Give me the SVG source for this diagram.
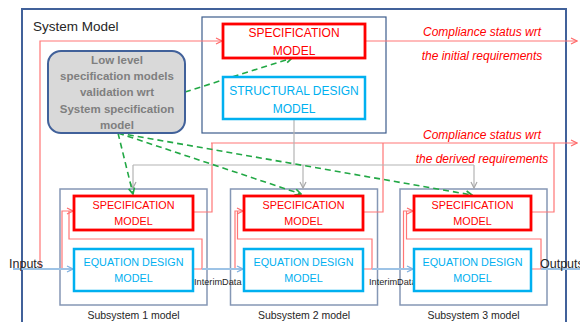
<svg xmlns="http://www.w3.org/2000/svg" width="580" height="322" viewBox="0 0 580 322">
  <style>
    .frame { fill: none; stroke: #41619a; stroke-width: 2; }
    .holder { fill: none; stroke: #3d5d8c; stroke-width: 1.2; }
    .sub { fill: none; stroke: #8597b5; stroke-width: 1.5; }
    .spec { fill: #ffffff; stroke: #ff0000; stroke-width: 2.8; }
    .design { fill: #ffffff; stroke: #00b0f0; stroke-width: 2.5; }
    .lowlevel { fill: #d9d9d9; stroke: #41619a; stroke-width: 2; }
    .t { font-family: "Liberation Sans", Arial, sans-serif; }
    .specTxt { fill: #ff0000; text-anchor: middle; }
    .designTxt { fill: #00b0f0; text-anchor: middle; }
    .lowTxt { fill: #7f7f7f; font-weight: bold; font-size: 11.5px; text-anchor: middle; }
    .note { fill: #ff0000; font-style: italic; font-size: 12px; text-anchor: middle; }
    .lbl { fill: #262626; }
    .red { fill: none; stroke: #ff7676; stroke-width: 1.2; }
    .gray { fill: none; stroke: #b4b4b4; stroke-width: 1.2; }
    .blue { fill: none; stroke: #9dc3e6; stroke-width: 2; }
    .green { fill: none; stroke: #22a845; stroke-width: 1.6; stroke-dasharray: 6 4; }
  </style>
  <defs>
    <marker id="arrRed" viewBox="0 0 8 8" refX="7" refY="4" markerWidth="8" markerHeight="8" markerUnits="userSpaceOnUse" orient="auto">
      <path d="M1,1 L7,4 L1,7" fill="none" stroke="#ff6b6b" stroke-width="1.2"/>
    </marker>
    <marker id="arrGray" viewBox="0 0 8 8" refX="7" refY="4" markerWidth="8" markerHeight="8" markerUnits="userSpaceOnUse" orient="auto">
      <path d="M1,1 L7,4 L1,7" fill="none" stroke="#a8a8a8" stroke-width="1.2"/>
    </marker>
    <marker id="arrBlue" viewBox="0 0 8 8" refX="7" refY="4" markerWidth="8" markerHeight="8" markerUnits="userSpaceOnUse" orient="auto">
      <path d="M1,1 L7,4 L1,7" fill="none" stroke="#7fb0e0" stroke-width="1.3"/>
    </marker>
    <marker id="arrGreen" viewBox="0 0 8 8" refX="7" refY="4" markerWidth="8" markerHeight="8" markerUnits="userSpaceOnUse" orient="auto">
      <path d="M1,1 L7,4 L1,7" fill="none" stroke="#22a845" stroke-width="1.6"/>
    </marker>
  </defs>

  <rect width="580" height="322" fill="#ffffff"/>

  <!-- outer system frame -->
  <g id="system-model">
    <rect class="frame" x="22" y="9" width="544" height="330"/>
    <text class="t lbl" x="33" y="31" font-size="13.5">System Model</text>
  </g>

  <!-- top-level container -->
  <g id="system-container">
    <rect class="holder" x="202" y="17" width="184" height="116"/>
  </g>

  <g id="subsystem-1-frame">
    <rect class="sub" x="60" y="189" width="147" height="116"/>
    <text class="t lbl" x="133.5" y="319" font-size="10.5" text-anchor="middle">Subsystem 1 model</text>
  </g>
  <g id="subsystem-2-frame">
    <rect class="sub" x="230.5" y="189" width="147" height="116"/>
    <text class="t lbl" x="304" y="319" font-size="10.5" text-anchor="middle">Subsystem 2 model</text>
  </g>
  <g id="subsystem-3-frame">
    <rect class="sub" x="400" y="189" width="147" height="116"/>
    <text class="t lbl" x="473.5" y="319" font-size="10.5" text-anchor="middle">Subsystem 3 model</text>
  </g>

  <!-- connectors -->
  <g id="connectors">
    <!-- inputs and top specification feed -->
    <path class="red" d="M13,269 H62 V211 H73" marker-end="url(#arrRed)"/>
    <path class="red" d="M40,269 V41 H222" marker-end="url(#arrRed)"/>
    <path class="blue" d="M13,269 H73" marker-end="url(#arrBlue)"/>

    <!-- compliance outputs -->
    <path class="red" d="M365,41 H577" marker-end="url(#arrRed)"/>
    <path class="red" d="M193,212 H212 V143"/>
    <path class="red" d="M363,212 H383 V143"/>
    <path class="red" d="M531,212 H554 V143"/>
    <path class="red" d="M211,143 H577" marker-end="url(#arrRed)"/>

    <!-- subsystem feedback loops -->
    <path class="red" d="M193,269 H202 V239 H69 V211"/>
    <path class="red" d="M363,269 H372 V239 H237.5 V211"/>
    <path class="red" d="M531,269 H541 V239 H406.5 V211"/>
    <path class="red" d="M235,269 V211 H243" marker-end="url(#arrRed)"/>
    <path class="red" d="M403.5,269 V211 H413" marker-end="url(#arrRed)"/>

    <!-- data flow -->
    <path class="blue" d="M202,269 H243" marker-end="url(#arrBlue)"/>
    <path class="blue" d="M372,269 H413" marker-end="url(#arrBlue)"/>
    <path class="blue" d="M541,269 H580"/>

    <!-- structural design distribution -->
    <path class="gray" d="M294,119 V165"/>
    <path class="gray" d="M133,165 H474"/>
    <path class="gray" d="M133,165 V188" marker-end="url(#arrGray)"/>
    <path class="gray" d="M303,165 V188" marker-end="url(#arrGray)"/>
    <path class="gray" d="M474,165 V188" marker-end="url(#arrGray)"/>

    <!-- validation links -->
    <path class="green" d="M185,92 L292,58" marker-end="url(#arrGreen)"/>
    <path class="green" d="M118,133 L133,194" marker-end="url(#arrGreen)"/>
    <path class="green" d="M118,133 L301,194" marker-end="url(#arrGreen)"/>
    <path class="green" d="M118,133 L472,195" marker-end="url(#arrGreen)"/>

    <!-- flow labels -->
    <text class="t lbl" x="9" y="268" font-size="12.5">Inputs</text>
    <text class="t lbl" x="540" y="268" font-size="12.5">Outputs</text>
    <text class="t lbl" x="194" y="285" font-size="9.2">InterimData</text>
    <text class="t lbl" x="369" y="285" font-size="9.2">InterimData</text>
    <text class="t note" x="482" y="36">Compliance status wrt</text>
    <text class="t note" x="482" y="60">the initial requirements</text>
    <text class="t note" x="482" y="139">Compliance status wrt</text>
    <text class="t note" x="482" y="163">the derived requirements</text>
  </g>

  <!-- validation node -->
  <g id="low-level-validation">
    <rect class="lowlevel" x="48" y="51" width="137" height="82" rx="13"/>
    <text class="t lowTxt" x="117" y="64">Low level</text>
    <text class="t lowTxt" x="117" y="80">specification models</text>
    <text class="t lowTxt" x="117" y="96">validation wrt</text>
    <text class="t lowTxt" x="117" y="113">System specification</text>
    <text class="t lowTxt" x="117" y="129">model</text>
  </g>

  <!-- system level models -->
  <g id="system-specification">
    <rect class="spec" x="223" y="24" width="142" height="34"/>
    <text class="t specTxt" x="294" y="36.5" font-size="12">SPECIFICATION</text>
    <text class="t specTxt" x="294" y="55" font-size="12">MODEL</text>
  </g>
  <g id="structural-design">
    <rect class="design" x="223" y="77" width="142" height="42"/>
    <text class="t designTxt" x="294" y="94.5" font-size="12">STRUCTURAL DESIGN</text>
    <text class="t designTxt" x="294" y="112.5" font-size="12">MODEL</text>
  </g>

  <!-- subsystem 1 -->
  <g id="sub1-specification">
    <rect class="spec" x="74" y="196" width="119" height="34"/>
    <text class="t specTxt" x="133.5" y="209" font-size="10.8">SPECIFICATION</text>
    <text class="t specTxt" x="133.5" y="225" font-size="10.8">MODEL</text>
  </g>
  <g id="sub1-equation">
    <rect class="design" x="74" y="249" width="119" height="42"/>
    <text class="t designTxt" x="133.5" y="266" font-size="10.8">EQUATION DESIGN</text>
    <text class="t designTxt" x="133.5" y="282" font-size="10.8">MODEL</text>
  </g>

  <!-- subsystem 2 -->
  <g id="sub2-specification">
    <rect class="spec" x="244" y="196" width="119" height="34"/>
    <text class="t specTxt" x="303.5" y="209" font-size="10.8">SPECIFICATION</text>
    <text class="t specTxt" x="303.5" y="225" font-size="10.8">MODEL</text>
  </g>
  <g id="sub2-equation">
    <rect class="design" x="244" y="249" width="119" height="42"/>
    <text class="t designTxt" x="303.5" y="266" font-size="10.8">EQUATION DESIGN</text>
    <text class="t designTxt" x="303.5" y="282" font-size="10.8">MODEL</text>
  </g>

  <!-- subsystem 3 -->
  <g id="sub3-specification">
    <rect class="spec" x="414" y="196" width="117" height="34"/>
    <text class="t specTxt" x="472.5" y="209" font-size="10.8">SPECIFICATION</text>
    <text class="t specTxt" x="472.5" y="225" font-size="10.8">MODEL</text>
  </g>
  <g id="sub3-equation">
    <rect class="design" x="414" y="249" width="117" height="42"/>
    <text class="t designTxt" x="472.5" y="266" font-size="10.8">EQUATION DESIGN</text>
    <text class="t designTxt" x="472.5" y="282" font-size="10.8">MODEL</text>
  </g>
</svg>
